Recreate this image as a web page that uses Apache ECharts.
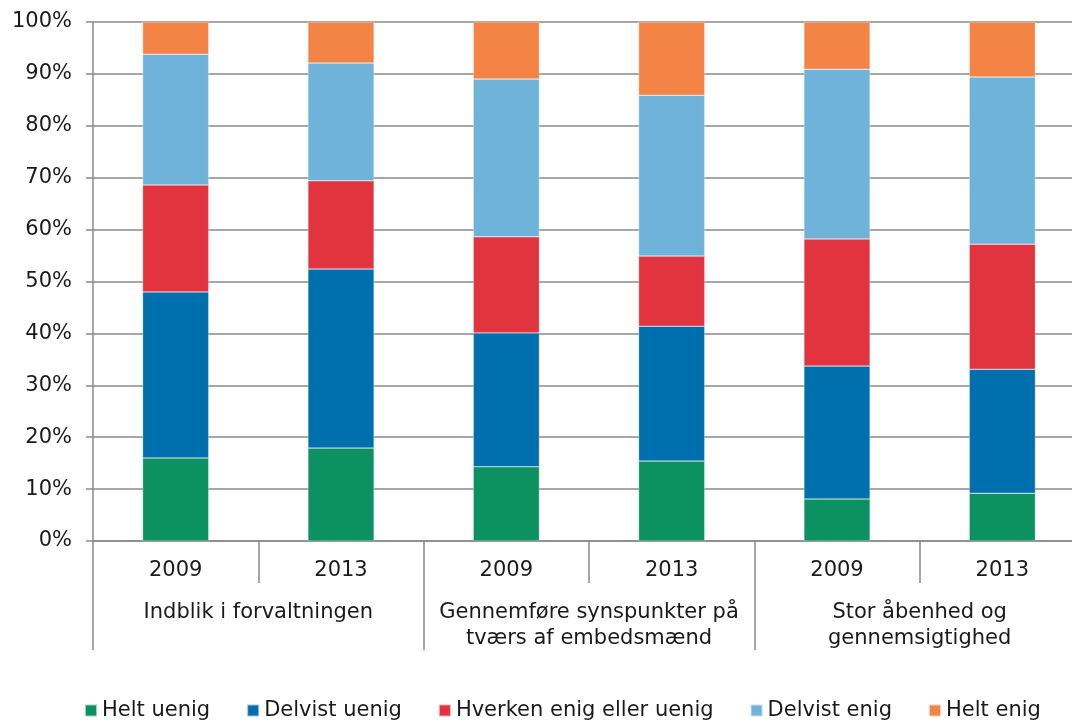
<!DOCTYPE html>
<html>
<head>
<meta charset="utf-8">
<script src="https://cdn.jsdelivr.net/npm/echarts@6/dist/echarts.min.js"></script>
<style>html,body{margin:0;padding:0;background:#fff;overflow:hidden;width:1072px;height:725px;}#c{width:1100px;height:725px;}</style>
</head>
<body>
<div id="c"></div>
<script>
var years = ['2009', '2013', '2009', '2013', '2009', '2013'];
var groups = ['Indblik i forvaltningen', 'Gennemføre synspunkter på\ntværs af embedsmænd', 'Stor åbenhed og\ngennemsigtighed'];
var yTicks = [0, 10, 20, 30, 40, 50, 60, 70, 80, 90, 100];
var seriesNames = ['Helt uenig', 'Delvist uenig', 'Hverken enig eller uenig', 'Delvist enig', 'Helt enig'];
var heltUenig = [16.0, 17.9, 14.3, 15.4, 8.1, 9.2];
var delvistUenig = [32.0, 34.5, 25.8, 26.0, 25.6, 23.9];
var hverken = [20.6, 17.0, 18.5, 13.5, 24.5, 24.1];
var delvistEnig = [25.2, 22.7, 30.4, 31.0, 32.7, 32.2];
var heltEnig = [6.2, 7.9, 11.0, 14.1, 9.1, 10.6];
var colors = ['#0b9162', '#006fae', '#e1343e', '#6fb3db', '#f38446'];

var allData = [heltUenig, delvistUenig, hverken, delvistEnig, heltEnig];
var font = 'DejaVu Sans';
var fs = 21;
var chart = echarts.init(document.getElementById('c'));
chart.setOption({
  animation: false,
  color: colors,
  textStyle: { fontFamily: font },
  grid: { left: 93, width: 992, top: 22, height: 519 },
  legend: {
    top: 700, left: 84, padding: 0, itemWidth: 12, itemHeight: 12, itemGap: 36,
    icon: 'rect',
    textStyle: { fontFamily: font, fontSize: fs, color: '#1a1a1a' },
    data: seriesNames
  },
  xAxis: [
    {
      type: 'category', data: years, position: 'bottom',
      axisLine: { lineStyle: { color: '#8a8a8a', width: 1.5 } },
      axisTick: { show: true, interval: 0, length: 42, lineStyle: { color: '#8a8a8a', width: 1.5 } },
      axisLabel: { interval: 0, margin: 16, fontFamily: font, fontSize: fs, color: '#1a1a1a', lineHeight: 28 }
    },
    {
      type: 'category', data: groups, position: 'bottom',
      axisLine: { show: false },
      axisTick: { show: true, interval: 0, length: 109, lineStyle: { color: '#8a8a8a', width: 1.5 } },
      axisLabel: { interval: 0, margin: 59, fontFamily: font, fontSize: fs, color: '#1a1a1a', lineHeight: 26 }
    }
  ],
  yAxis: {
    type: 'value', min: 0, max: 100, interval: 10,
    axisLine: { show: true, lineStyle: { color: '#8a8a8a', width: 1.5 } },
    axisTick: { show: true, length: 7, lineStyle: { color: '#8a8a8a', width: 1.5 } },
    splitLine: { lineStyle: { color: '#8a8a8a', width: 1.5 } },
    axisLabel: {
      margin: 21, fontFamily: font, fontSize: fs, color: '#1a1a1a',
      formatter: function (v) { return yTicks.indexOf(v) >= 0 ? v + '%' : ''; }
    }
  },
  series: seriesNames.map(function (n, i) {
    return {
      name: n, type: 'bar', stack: 'total', barWidth: '40%', xAxisIndex: 0,
      itemStyle: { color: colors[i], borderColor: 'rgba(255,255,255,0.6)', borderWidth: 0.5 },
      data: allData[i]
    };
  })
});
</script>
</body>
</html>
